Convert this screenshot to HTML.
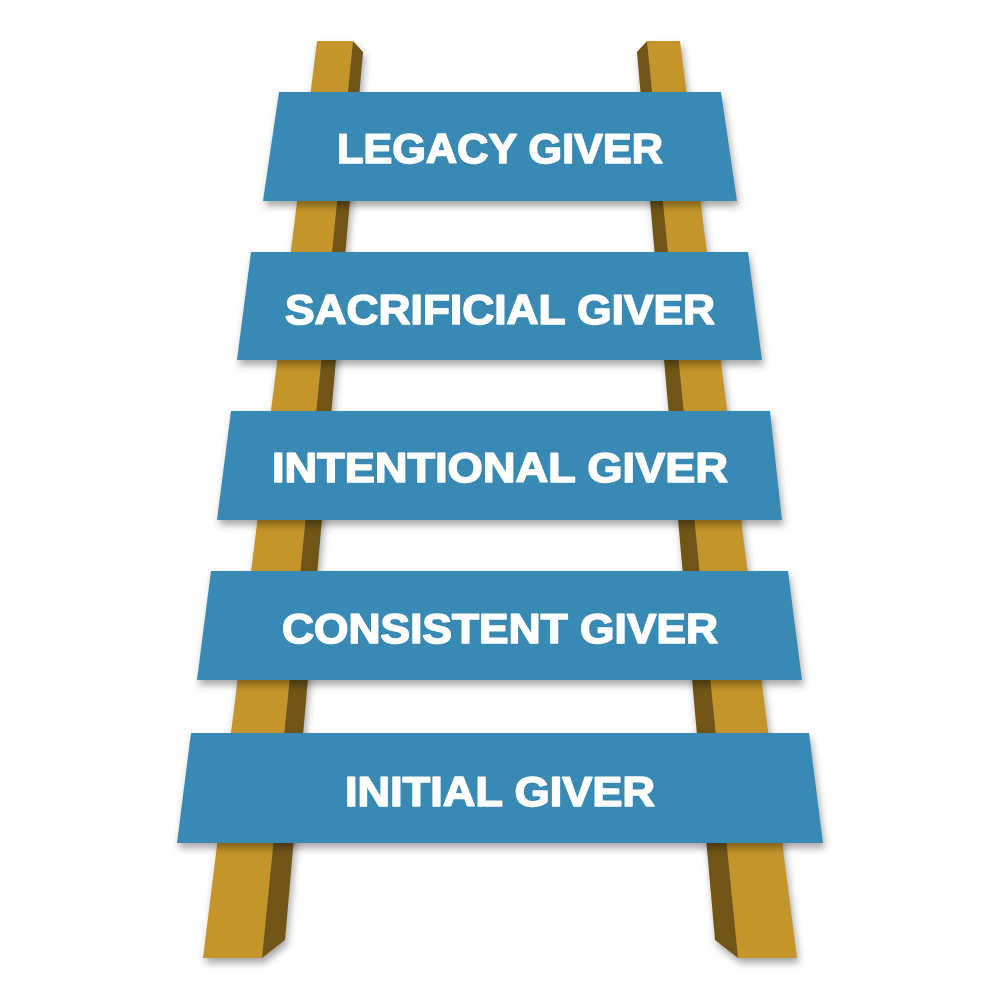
<!DOCTYPE html>
<html><head><meta charset="utf-8"><style>html,body{margin:0;padding:0;background:#fff}svg{display:block}</style></head>
<body>
<svg width="1000" height="1000" viewBox="0 0 1000 1000" xmlns="http://www.w3.org/2000/svg">
<defs>
<filter id="sh" x="-10%" y="-20%" width="120%" height="150%">
<feDropShadow dx="2" dy="5" stdDeviation="4" flood-color="#000" flood-opacity="0.35"/>
</filter>
</defs>
<g filter="url(#sh)">
<polygon points="317,41 353,41 262,958 203,958" fill="#c4952c"/>
<polygon points="353,41 363,52 285,940 262,958" fill="#705514"/>
<polygon points="647,41 680,41 797,958 738,958" fill="#c4952c"/>
<polygon points="647,41 637,52 715,940 738,958" fill="#705514"/>
</g>
<g fill="#3789b3" filter="url(#sh)">
<polygon points="279,92 721,92 737,201 263,201"/>
<polygon points="251,252 748,252 762,360 237,360"/>
<polygon points="231,411 770,411 782,520 217,520"/>
<polygon points="211,571 788,571 802,680 197,680"/>
<polygon points="191,733 809,733 823,843 177,843"/>
</g>
<g fill="#fff" stroke="#fff" stroke-width="1.6" stroke-linejoin="round" font-family="Liberation Sans, sans-serif" font-weight="bold" font-size="42" text-anchor="middle">
<text x="500" y="163" textLength="326" lengthAdjust="spacingAndGlyphs">LEGACY GIVER</text>
<text x="500" y="324" textLength="430" lengthAdjust="spacingAndGlyphs">SACRIFICIAL GIVER</text>
<text x="500" y="482" textLength="456" lengthAdjust="spacingAndGlyphs">INTENTIONAL GIVER</text>
<text x="500" y="643" textLength="436" lengthAdjust="spacingAndGlyphs">CONSISTENT GIVER</text>
<text x="500" y="806" textLength="310" lengthAdjust="spacingAndGlyphs">INITIAL GIVER</text>
</g>
</svg>
</body></html>
